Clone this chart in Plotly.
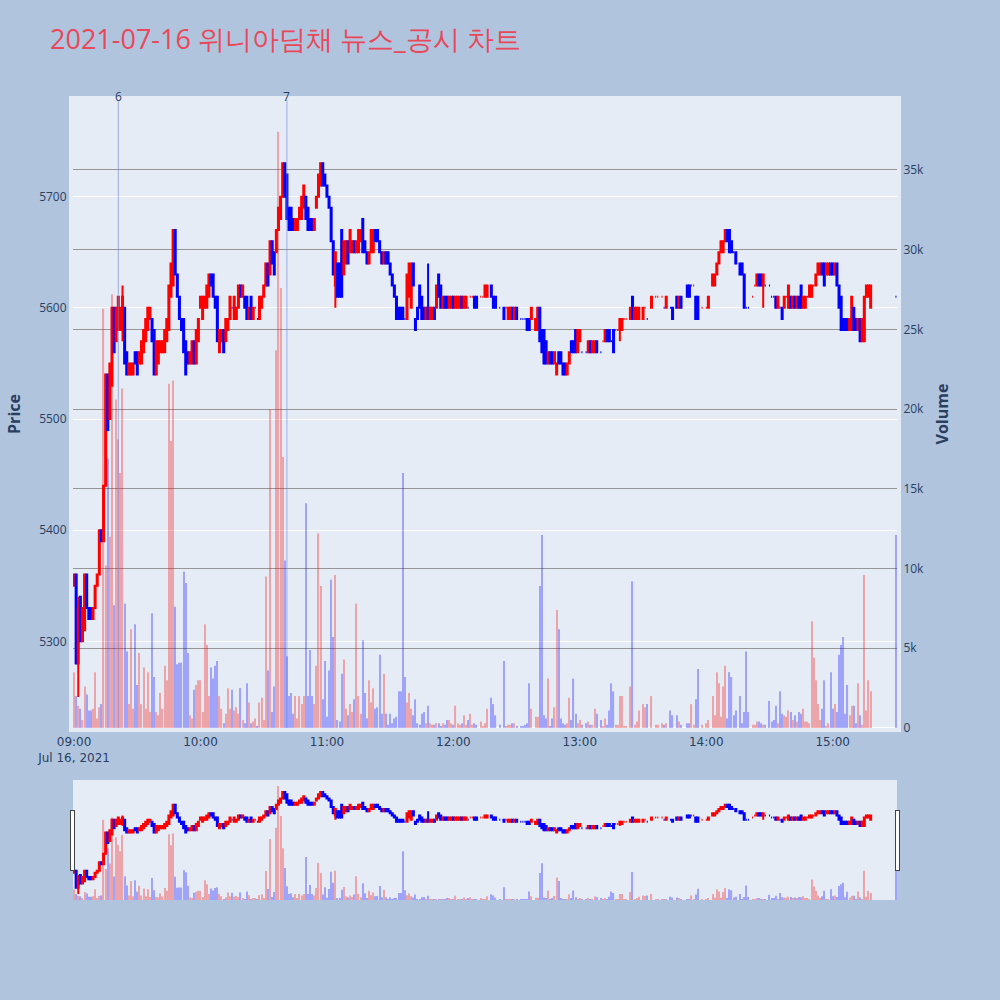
import pandas as pd
import plotly.graph_objects as go

N = None
# minute bars 09:00 .. 15:30 (391 minutes)
times = pd.date_range("2021-07-16 09:00", periods=391, freq="min")

open_ = [
    5350,5360,5280,5340,5300,5310,5360,5330,5330,5320,
    5330,5350,5360,5400,5390,5440,5540,5500,5530,5600,
    5570,5580,5580,5580,5600,5560,5540,5540,5540,5560,
    5560,5550,5550,5560,5570,5580,5590,5590,5580,5540,
    5550,5560,5560,5560,5570,5580,5610,5620,5670,5630,
    5610,5590,5590,5570,5560,5550,5550,5570,5550,5570,
    5600,5590,5600,5600,5610,5630,5630,5610,5610,5560,
    5570,5580,5570,5580,5590,5600,5590,5590,5600,5620,
    5610,5610,5610,5590,5610,5590,5600,5590,5590,5600,
    5610,5620,5640,5630,5660,5650,5650,5670,5680,5700,
    5730,5720,5690,5690,5680,5670,5670,5680,5680,5690,
    5700,5690,5680,5680,5670,5690,5700,5710,5730,5720,
    5710,5700,5690,5660,5620,5640,5640,5670,5630,5640,
    5660,5650,5650,5660,5650,5650,5660,5680,5660,5650,
    5640,5650,5650,5670,5670,5660,5650,5640,5650,5650,
    5640,5630,5620,5610,5600,5600,5600,5590,5590,5610,
    5600,5640,5590,5600,5620,5610,5600,5590,5600,5590,
    5590,5600,5600,5630,5620,5600,5610,5610,5600,5600,
    5610,5600,5600,5600,5610,5600,5600,5600,5610,5610,
    5610,5610,N,5610,5610,5610,5610,N,5620,5610,
    5610,N,5600,N,5600,5600,5590,5590,5600,5590,
    5600,N,5590,5590,5590,5590,5590,5590,N,5580,
    5580,5600,5580,5580,5570,5550,5560,5560,5550,5540,
    5560,5560,5550,5550,5540,5550,5570,5570,5580,5560,
    5570,5560,N,5560,5560,5570,5560,5560,5570,N,
    5560,5570,5570,5580,5580,5570,5580,5580,5580,5580,
    5580,5590,5590,N,5590,5610,5590,5590,5590,N,
    5590,5600,5590,N,5600,N,5610,5610,N,5610,
    5600,5600,N,5600,5600,N,5610,5600,5610,N,
    N,5620,5620,5620,5620,5610,5610,N,5600,N,
    5600,5600,N,5620,5620,5630,5640,5650,5650,5660,
    5670,5670,5660,5650,5650,N,5640,5640,5630,5600,
    5600,N,5610,5620,5620,5630,5630,5620,5620,N,
    5620,5610,5610,5610,5600,5600,5600,5600,5610,5600,
    5610,5600,5610,5600,5610,5620,5600,5600,5610,5610,
    5610,5620,5620,5630,5630,5640,5640,5630,5630,5640,
    5640,5630,5640,5620,5610,5590,5590,5590,5580,5580,
    5600,5590,5580,5590,5570,5570,5610,5610,5600,N,
    N,N,N,N,N,N,N,N,N,N,
    5610,
]

high = [
    5360,5360,5340,5340,5330,5360,5360,5330,5330,5330,
    5350,5360,5400,5400,5440,5540,5540,5550,5600,5600,
    5600,5610,5600,5620,5600,5560,5550,5550,5550,5560,
    5560,5560,5570,5580,5590,5600,5600,5590,5580,5570,
    5570,5570,5570,5580,5590,5620,5640,5670,5670,5630,
    5610,5590,5590,5570,5560,5560,5570,5570,5580,5590,
    5610,5610,5610,5620,5630,5630,5630,5610,5610,5580,
    5580,5580,5590,5590,5610,5600,5610,5600,5620,5620,
    5620,5610,5610,5600,5610,5600,5600,5590,5610,5610,
    5620,5640,5640,5660,5660,5650,5670,5690,5700,5730,
    5730,5720,5690,5690,5680,5680,5680,5690,5700,5710,
    5700,5690,5680,5680,5680,5700,5720,5730,5730,5720,
    5710,5700,5690,5660,5650,5640,5640,5670,5660,5660,
    5660,5670,5660,5660,5660,5670,5670,5680,5660,5650,
    5650,5670,5670,5670,5670,5660,5650,5650,5650,5650,
    5640,5630,5620,5610,5600,5600,5600,5590,5630,5640,
    5640,5640,5590,5600,5620,5610,5600,5600,5640,5600,
    5600,5600,5620,5630,5620,5610,5610,5610,5610,5610,
    5610,5610,5610,5610,5610,5610,5610,5600,5610,5610,
    5610,5610,N,5610,5610,5620,5620,N,5620,5610,
    5610,N,5600,N,5600,5600,5600,5600,5600,5600,
    5600,N,5590,5590,5590,5590,5590,5600,N,5590,
    5600,5600,5580,5580,5570,5560,5560,5560,5560,5550,
    5560,5560,5550,5550,5550,5560,5570,5570,5580,5580,
    5580,5560,N,5560,5570,5570,5570,5570,5570,N,
    5560,5570,5580,5580,5580,5570,5580,5580,5580,5590,
    5590,5590,5590,N,5600,5610,5600,5600,5600,N,
    5600,5600,5590,N,5610,N,5610,5610,N,5610,
    5600,5610,N,5600,5600,N,5610,5610,5610,N,
    N,5620,5620,5620,5620,5610,5610,N,5600,N,
    5600,5610,N,5630,5630,5640,5650,5660,5660,5670,
    5670,5670,5660,5650,5650,N,5640,5640,5630,5600,
    5600,N,5610,5620,5630,5630,5630,5630,5620,N,
    5620,5610,5610,5610,5610,5600,5600,5610,5610,5620,
    5610,5610,5610,5610,5610,5620,5610,5610,5610,5620,
    5620,5620,5630,5640,5640,5640,5640,5640,5640,5640,
    5640,5640,5640,5620,5610,5590,5590,5590,5590,5610,
    5600,5590,5590,5590,5590,5610,5620,5620,5620,N,
    N,N,N,N,N,N,N,N,N,N,
    5610,
]

low = [
    5350,5280,5250,5300,5300,5310,5330,5320,5320,5320,
    5330,5350,5360,5390,5390,5440,5490,5500,5530,5560,
    5570,5580,5580,5570,5550,5540,5540,5540,5540,5550,
    5540,5550,5550,5560,5570,5580,5590,5570,5540,5540,
    5550,5560,5560,5560,5570,5580,5610,5620,5630,5610,
    5590,5580,5560,5540,5550,5550,5550,5550,5550,5570,
    5600,5590,5600,5600,5610,5620,5610,5600,5570,5560,
    5570,5560,5570,5580,5590,5600,5590,5590,5600,5610,
    5610,5600,5590,5590,5590,5590,5600,5590,5590,5600,
    5610,5620,5620,5630,5640,5630,5650,5670,5680,5700,
    5700,5680,5670,5670,5670,5670,5670,5680,5680,5690,
    5680,5670,5670,5670,5670,5690,5700,5710,5710,5710,
    5700,5690,5660,5630,5600,5610,5610,5610,5630,5640,
    5640,5650,5650,5650,5650,5650,5660,5650,5650,5640,
    5640,5650,5650,5660,5660,5650,5640,5640,5640,5640,
    5630,5620,5610,5590,5590,5590,5590,5590,5590,5610,
    5600,5620,5580,5590,5600,5590,5590,5590,5590,5590,
    5590,5590,5600,5610,5600,5600,5600,5600,5600,5600,
    5600,5600,5600,5600,5600,5600,5600,5600,5610,5610,
    5600,5600,N,5610,5610,5610,5610,N,5610,5600,
    5600,N,5600,N,5590,5600,5590,5590,5590,5590,
    5590,N,5590,5590,5590,5580,5580,5590,N,5580,
    5580,5570,5560,5550,5550,5550,5550,5550,5550,5540,
    5550,5550,5540,5540,5540,5550,5560,5560,5560,5560,
    5570,5560,N,5560,5560,5560,5560,5560,5560,N,
    5560,5570,5570,5570,5570,5570,5560,5580,5580,5570,
    5580,5590,5590,N,5590,5590,5590,5590,5590,N,
    5590,5600,5590,N,5600,N,5610,5610,N,5610,
    5600,5600,N,5600,5590,N,5600,5600,5600,N,
    N,5610,5610,5620,5620,5590,5590,N,5600,N,
    5600,5600,N,5620,5620,5630,5640,5650,5650,5660,
    5660,5650,5650,5650,5640,N,5630,5630,5600,5600,
    5600,N,5610,5620,5620,5620,5620,5600,5620,N,
    5620,5610,5610,5600,5600,5600,5590,5600,5610,5600,
    5600,5600,5600,5600,5600,5600,5600,5600,5610,5610,
    5610,5620,5620,5630,5630,5630,5620,5630,5630,5630,
    5630,5630,5620,5600,5580,5580,5580,5580,5580,5580,
    5580,5580,5580,5570,5570,5570,5610,5610,5600,N,
    N,N,N,N,N,N,N,N,N,N,
    5610,
]

close = [
    5360,5280,5330,5300,5330,5360,5330,5320,5320,5330,
    5350,5360,5400,5390,5440,5540,5490,5550,5600,5560,
    5600,5610,5600,5610,5550,5540,5550,5550,5550,5550,
    5540,5560,5570,5580,5590,5600,5600,5570,5540,5570,
    5570,5570,5570,5580,5590,5620,5640,5670,5630,5610,
    5590,5580,5560,5540,5550,5560,5570,5550,5580,5590,
    5610,5610,5610,5620,5630,5620,5610,5600,5570,5580,
    5580,5560,5590,5590,5610,5600,5610,5600,5620,5610,
    5620,5600,5590,5600,5590,5600,5600,5590,5610,5610,
    5620,5640,5620,5660,5640,5630,5670,5690,5700,5730,
    5700,5680,5670,5670,5670,5680,5680,5690,5700,5710,
    5680,5670,5670,5670,5680,5700,5720,5730,5710,5710,
    5700,5690,5660,5630,5650,5610,5610,5610,5660,5660,
    5640,5670,5660,5650,5660,5670,5670,5650,5650,5640,
    5650,5670,5670,5660,5660,5650,5640,5650,5640,5640,
    5630,5620,5610,5590,5590,5590,5590,5590,5630,5640,
    5640,5620,5580,5590,5600,5590,5590,5600,5590,5600,
    5600,5590,5620,5610,5600,5610,5600,5600,5610,5610,
    5600,5610,5610,5610,5600,5610,5610,5600,5610,5610,
    5600,5600,N,5610,5610,5620,5620,N,5610,5600,
    5600,N,5600,N,5590,5600,5600,5600,5590,5600,
    5590,N,5590,5590,5590,5580,5580,5600,N,5590,
    5600,5570,5560,5550,5550,5560,5550,5550,5560,5550,
    5550,5550,5540,5540,5550,5560,5560,5560,5560,5580,
    5580,5560,N,5560,5570,5560,5570,5570,5560,N,
    5560,5570,5580,5570,5570,5570,5560,5580,5580,5590,
    5590,5590,5590,N,5600,5590,5600,5600,5600,N,
    5600,5600,5590,N,5610,N,5610,5610,N,5610,
    5600,5610,N,5600,5590,N,5600,5610,5600,N,
    N,5610,5610,5620,5620,5590,5590,N,5600,N,
    5600,5610,N,5630,5630,5640,5650,5660,5660,5670,
    5660,5650,5650,5650,5640,N,5630,5630,5600,5600,
    5600,N,5610,5620,5630,5620,5620,5630,5620,N,
    5620,5610,5610,5600,5610,5600,5590,5610,5610,5620,
    5600,5610,5600,5610,5600,5600,5610,5610,5610,5620,
    5620,5620,5630,5640,5640,5630,5620,5640,5640,5630,
    5630,5640,5620,5600,5580,5580,5580,5580,5590,5610,
    5580,5580,5590,5570,5590,5610,5620,5620,5620,N,
    N,N,N,N,N,N,N,N,N,N,
    5610,
]

volume = [
    3500,2000,1400,1200,500,2600,2100,1100,1100,1200,
    3500,600,1300,1500,26300,10200,16900,12000,27200,7700,
    20600,18100,16000,21300,7800,4800,1500,6200,1200,6500,
    2700,4700,1500,3800,1200,3500,1000,7200,3200,1000,
    800,2200,1200,3900,3000,21600,18000,21800,7600,4000,
    4100,4100,9800,9100,4700,800,600,2400,2700,3000,
    3000,1000,6500,5200,2000,3800,3100,3900,4200,2000,
    1200,300,900,2500,1200,2400,1100,1300,900,2500,
    500,300,2800,1600,300,400,600,100,1600,1900,
    500,9500,3600,20000,1000,2600,23700,37400,27600,17000,
    10500,4500,2000,2200,900,2000,600,2000,1500,2000,
    14100,2000,4900,2000,1500,3900,12200,8900,1800,4200,
    700,3600,9300,5700,9600,500,400,3400,4300,1200,
    800,1500,1000,1800,7800,2000,900,5500,2200,600,
    3000,1600,2500,1200,1300,4600,900,3400,900,200,
    900,300,600,700,2300,2300,16000,3200,1600,2200,
    1200,800,1800,300,200,900,1000,300,1400,300,
    200,200,300,300,100,300,200,500,500,300,
    200,1400,300,200,300,800,200,500,900,200,
    300,200,N,400,100,300,1200,N,1900,1500,
    800,N,200,N,4200,100,200,200,300,300,
    100,N,100,100,200,300,2800,1200,N,700,
    700,8900,12100,800,600,3100,100,600,1300,7400,
    6200,600,300,200,300,1900,500,3100,900,300,
    500,200,N,300,400,200,200,1200,900,N,
    500,100,600,200,1100,2800,2300,200,200,2000,
    2000,100,100,N,2600,9200,200,400,1100,N,
    1500,1300,1500,N,2000,N,200,200,N,300,
    200,300,N,1100,800,N,800,400,200,N,
    N,300,300,1500,200,1800,3700,N,200,N,
    300,500,N,2000,800,3500,2800,700,2600,3900,
    600,3500,3200,800,1100,N,2000,300,1000,4800,
    1000,N,200,200,400,400,300,200,200,N,
    1700,400,500,1400,300,2300,900,800,700,1100,
    1000,500,800,400,1000,900,1200,400,400,300,
    6700,4400,3000,1500,500,1200,3000,100,300,3500,
    1200,1500,1000,4600,5200,5700,900,2700,800,1400,
    1400,300,2800,800,200,9600,1100,3000,2300,N,
    N,N,N,N,N,N,N,N,N,N,
    12100,
]

news_times = ["2021-07-16 09:21", "2021-07-16 10:41"]
news_labels = ["6", "7"]

UP, DOWN = "red", "blue"
PLOT_BG = "#E5ECF6"

# volume colour follows the candle direction (same rule as plotly's candlestick)
vol_colors = []
inc, prev_c = True, None
for o, c in zip(open_, close):
    if o is None:
        vol_colors.append(UP)
        continue
    if c > o:
        inc = True
    elif c < o:
        inc = False
    elif prev_c is not None and c != prev_c:
        inc = c > prev_c
    prev_c = c
    vol_colors.append(UP if inc else DOWN)

fig = go.Figure()
fig.add_trace(go.Candlestick(
    x=times, open=open_, high=high, low=low, close=close,
    increasing=dict(line=dict(color=UP, width=2), fillcolor=UP),
    decreasing=dict(line=dict(color=DOWN, width=2), fillcolor=DOWN),
    showlegend=False, yaxis="y", name="Price",
))
fig.add_trace(go.Bar(
    x=times, y=volume, marker=dict(color=vol_colors, line=dict(width=0)),
    opacity=0.3, yaxis="y2", showlegend=False, name="Volume",
))

for t, lab in zip(news_times, news_labels):
    fig.add_shape(type="line", xref="x", yref="paper", x0=t, x1=t, y0=0, y1=1,
                  line=dict(color="rgba(110,130,220,0.6)", width=1))
    fig.add_annotation(x=t, xref="x", y=1, yref="paper", text=lab, showarrow=False,
                       yanchor="middle", yshift=4, font=dict(size=12, color="#2a3f5f"))

frame = dict(showline=True, linewidth=4, linecolor=PLOT_BG, mirror=True)

fig.update_layout(
    template="plotly",
    width=1000, height=1000,
    paper_bgcolor="#B0C4DE", plot_bgcolor=PLOT_BG,
    title=dict(text="2021-07-16 위니아딤채 뉴스_공시 차트", x=0.05, xanchor="left",
               y=0.96, yanchor="middle", yref="container",
               font=dict(size=27, color="#E8485A")),
    margin=dict(l=72, r=103, t=100, b=100),
    bargap=0.45,
    xaxis=dict(
        type="date",
        range=["2021-07-16 08:59:30", "2021-07-16 15:30:30"],
        showgrid=False,
        tickfont=dict(size=12, family="DejaVu Sans"),
        rangeslider=dict(visible=True, thickness=0.15, bgcolor=PLOT_BG),
        **frame,
    ),
    yaxis=dict(
        title=dict(text="<b>Price</b>", font=dict(size=16), standoff=16),
        range=[5222, 5787], dtick=100, side="left",
        gridcolor="white", tickfont=dict(size=12),
        **frame,
    ),
    yaxis2=dict(
        title=dict(text="<b>Volume</b>", font=dict(size=16)),
        overlaying="y", side="right", range=[0, 39390], dtick=5000,
        showgrid=True, gridcolor="#969696", tickfont=dict(size=12),
        showline=True, linewidth=4, linecolor=PLOT_BG,
    ),
)

fig.write_html("out.html", config={"displayModeBar": False},
               post_script="document.body.style.margin='0';")
